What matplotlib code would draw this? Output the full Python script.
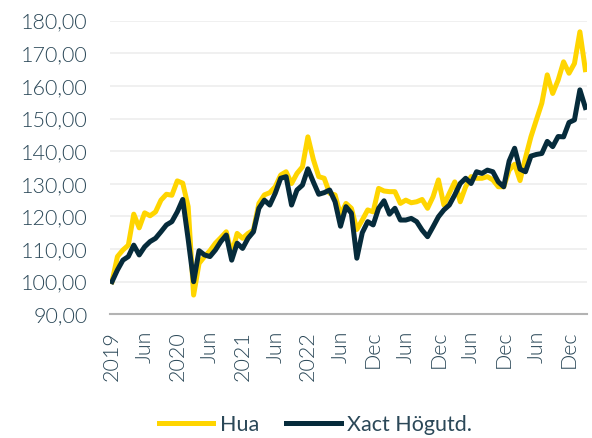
import matplotlib.pyplot as plt
from matplotlib.ticker import FuncFormatter

plt.rcParams["font.family"] = ["Lato", "DejaVu Sans"]

# month-end index values, Jan 2019 = 100
hua = [100.0, 107.7, 109.7, 111.2, 120.7, 116.5, 121.1, 120.2, 121.4, 125.0,
       126.8, 126.5, 130.9, 130.2, 123.0, 95.9, 105.6, 107.7, 109.5, 111.8,
       113.5, 115.3, 108.5, 114.8, 113.3, 114.8, 115.8, 124.0, 126.6, 127.3,
       129.1, 132.7, 133.7, 130.1, 133.2, 135.2, 144.4, 137.5, 132.2, 131.7,
       127.1, 126.6, 120.5, 124.0, 122.5, 116.0, 118.9, 122.0, 121.4, 128.6,
       127.8, 127.6, 127.6, 124.0, 125.0, 124.2, 124.5, 125.2, 122.5, 126.0,
       131.2, 123.5, 127.1, 130.6, 124.5, 129.1, 132.2, 131.7, 131.7, 132.2,
       131.2, 129.1, 129.1, 134.2, 136.0, 131.0, 138.0, 144.4, 149.6, 154.7,
       163.4, 157.7, 161.8, 167.4, 163.9, 166.9, 176.6, 165.0]

xact = [100.0, 103.6, 106.6, 107.7, 111.2, 108.2, 110.7, 112.3, 113.3, 115.3,
        117.4, 118.4, 121.4, 125.2, 113.0, 100.0, 109.5, 108.2, 107.7, 109.7,
        112.3, 114.3, 106.6, 111.8, 110.2, 113.3, 115.3, 122.5, 125.0, 123.5,
        127.1, 131.7, 132.2, 123.5, 128.1, 129.6, 134.6, 130.6, 126.8, 127.3,
        128.1, 124.5, 117.0, 123.0, 121.0, 107.2, 115.0, 118.4, 117.4, 122.5,
        124.8, 120.7, 122.5, 118.9, 118.9, 119.4, 118.4, 115.8, 113.8, 116.8,
        119.9, 122.0, 123.5, 126.6, 130.1, 131.7, 130.1, 133.7, 133.2, 134.2,
        133.7, 130.6, 129.1, 137.0, 140.9, 134.5, 133.7, 138.5, 139.0, 139.3,
        143.0, 141.4, 144.5, 144.4, 148.8, 149.6, 158.8, 153.4]

tick_labels = ["2019", "Jun", "2020", "Jun", "2021", "Jun", "2022", "Jun",
               "Dec", "Jun", "Dec", "Jun", "Dec", "Jun", "Dec"]

text_col = "#2b4858"
fig = plt.figure(figsize=(5.92, 4.38), dpi=100)
ax = fig.add_axes([0.1858, 0.2824, 0.8057, 0.6703])

x = range(len(hua))
ax.plot(x, hua, color="#ffd500", lw=3.6, solid_joinstyle="round", label="Hua", zorder=3)
ax.plot(x, xact, color="#062b3b", lw=3.6, solid_joinstyle="round", label="Xact Högutd.", zorder=4)

ax.set_xlim(-0.37, 87.3)
ax.set_ylim(90, 180)
ax.set_yticks(range(90, 181, 10))
ax.yaxis.set_major_formatter(FuncFormatter(lambda v, p: f"{v:.2f}".replace(".", ",")))
ax.set_xticks(range(0, 6 * len(tick_labels), 6))
ax.set_xticklabels(tick_labels, rotation=90)

ax.grid(axis="y", color="#eeeeee", lw=1.2)
ax.set_axisbelow(True)
for s in ["top", "right", "left"]:
    ax.spines[s].set_visible(False)
ax.spines["bottom"].set_color("#b3b3b3")
ax.spines["bottom"].set_linewidth(1.5)
ax.tick_params(axis="y", length=0, pad=16, labelsize=15.5, labelcolor=text_col)
ax.tick_params(axis="x", length=0, pad=12, labelsize=15.5, labelcolor=text_col)
for t in ax.get_xticklabels() + ax.get_yticklabels():
    t.set_fontweight(300)

fig.legend(loc="center", bbox_to_anchor=(0.533, 0.03), ncol=2, frameon=False,
           fontsize=15.5, labelcolor=text_col, handlelength=2.55, handletextpad=0.3,
           columnspacing=1.25, borderaxespad=0)

fig.savefig("out.png", dpi=100)
